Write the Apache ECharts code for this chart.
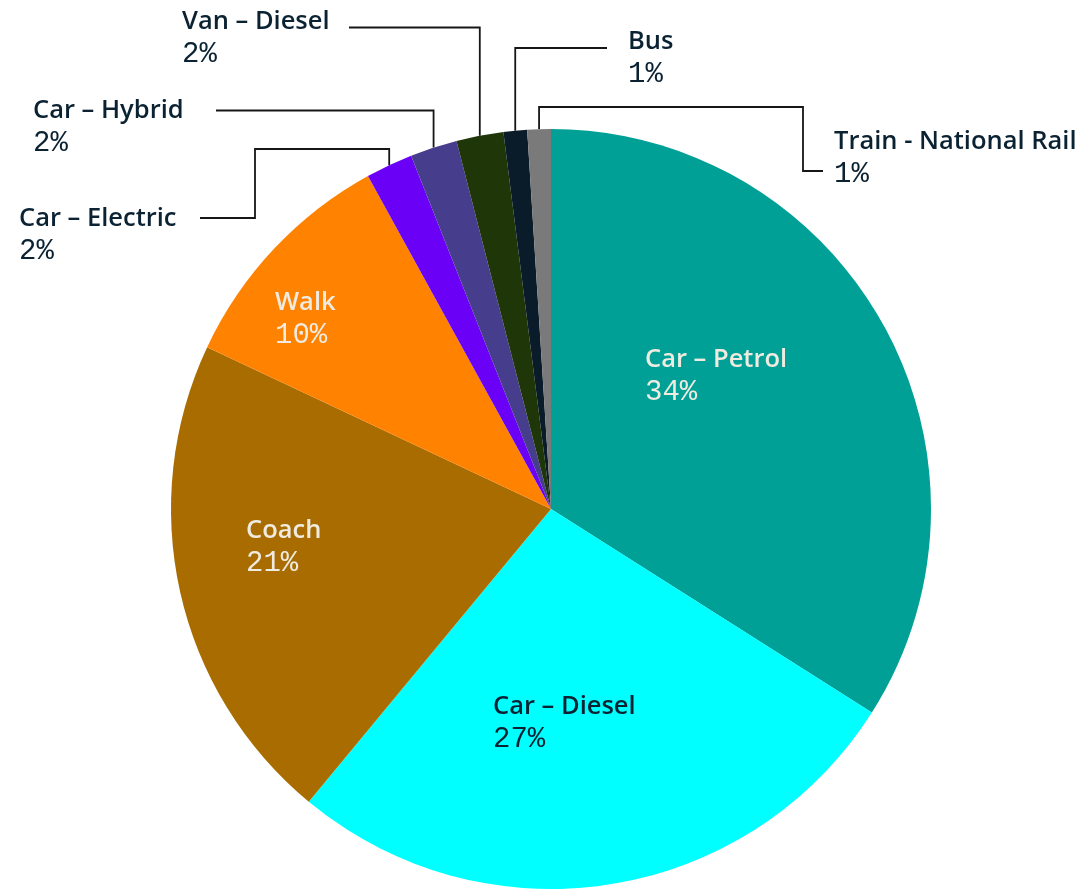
<!DOCTYPE html>
<html>
<head>
<meta charset="utf-8">
<script src="https://cdn.jsdelivr.net/npm/echarts@6/dist/echarts.min.js"></script>
<style>
  html, body { margin: 0; padding: 0; background: #ffffff; }
  #chart { width: 1090px; height: 889px; }
</style>
</head>
<body>
<div id="chart"></div>
<script>
// Travel mode shares (%)
const modes = ['Car – Petrol', 'Car – Diesel', 'Coach', 'Walk', 'Car – Electric', 'Car – Hybrid', 'Van – Diesel', 'Bus', 'Train - National Rail'];
const shares = [34, 27, 21, 10, 2, 2, 2, 1, 1];
const colours = ['#00a096', '#00ffff', '#a86c00', '#ff8200', '#6a00f5', '#463d8c', '#1f3609', '#0a1b29', '#7a7a7a'];

// Pie geometry
const CX = 551, CY = 509, R = 380;

// Label anchors: left edge and centre of the first text line
const labelSpots = {
  'Car – Petrol': { x: 645, y: 358, light: true },
  'Car – Diesel': { x: 493, y: 705 },
  'Coach': { x: 246, y: 529, light: true },
  'Walk': { x: 275, y: 301, light: true },
  'Car – Electric': { x: 19, y: 217 },
  'Car – Hybrid': { x: 33, y: 109 },
  'Van – Diesel': { x: 182, y: 20 },
  'Bus': { x: 628, y: 40 },
  'Train - National Rail': { x: 834, y: 140 }
};

// Elbow connectors for the small slices: 'v' moves to a y, 'h' moves to an x
const routes = {
  'Car – Electric': [['v', 149], ['h', 255], ['v', 218], ['h', 200]],
  'Car – Hybrid': [['v', 110.5], ['h', 216]],
  'Van – Diesel': [['v', 27.5], ['h', 349]],
  'Bus': [['v', 48], ['h', 607]],
  'Train - National Rail': [['v', 107], ['h', 803], ['v', 171], ['h', 823]]
};

const total = shares.reduce((a, b) => a + b, 0);

// Mid-angle point on the rim for each slice (clockwise from 12 o'clock)
const rimPoints = [];
let acc = 0;
shares.forEach(v => {
  const mid = (acc + v / 2) / total * Math.PI * 2;
  rimPoints.push([CX + R * Math.sin(mid), CY - R * Math.cos(mid)]);
  acc += v;
});

const LIGHT = '#efebe0';
const DARK = '#0b2233';

const data = modes.map((name, i) => {
  const outside = !!routes[name];
  const col = labelSpots[name].light ? LIGHT : DARK;
  return {
    name,
    value: shares[i],
    itemStyle: { color: colours[i] },
    label: {
      position: outside ? 'outside' : 'inside',
      rich: {
        n: { color: col, fontFamily: 'Open Sans', fontWeight: 600, fontSize: 25.5, lineHeight: 33 },
        p: { color: col, fontFamily: 'Liberation Mono', fontSize: 29, lineHeight: 33 }
      }
    },
    labelLine: { show: outside }
  };
});

const chart = echarts.init(document.getElementById('chart'), null, { renderer: 'canvas' });
chart.setOption({
  backgroundColor: '#ffffff',
  animation: false,
  series: [{
    type: 'pie',
    center: [CX, CY],
    radius: [0, R],
    startAngle: 90,
    clockwise: true,
    avoidLabelOverlap: false,
    itemStyle: { borderWidth: 0 },
    emphasis: { disabled: true },
    label: {
      show: true,
      align: 'left',
      formatter: p => '{n|' + p.name + '}\n{p|' + Math.round(p.value / total * 100) + '%}'
    },
    labelLine: {
      show: false,
      lineStyle: { color: '#161616', width: 1.8 }
    },
    labelLayout: params => {
      const name = modes[params.dataIndex];
      const spot = labelSpots[name];
      const out = { x: spot.x, y: spot.y - 15, align: 'left', verticalAlign: 'top' };
      const route = routes[name];
      if (route) {
        let [px, py] = rimPoints[params.dataIndex];
        const pts = [[px, py]];
        route.forEach(([dir, v]) => {
          if (dir === 'v') py = v; else px = v;
          pts.push([px, py]);
        });
        out.labelLinePoints = pts;
      }
      return out;
    },
    data
  }]
});
</script>
</body>
</html>
